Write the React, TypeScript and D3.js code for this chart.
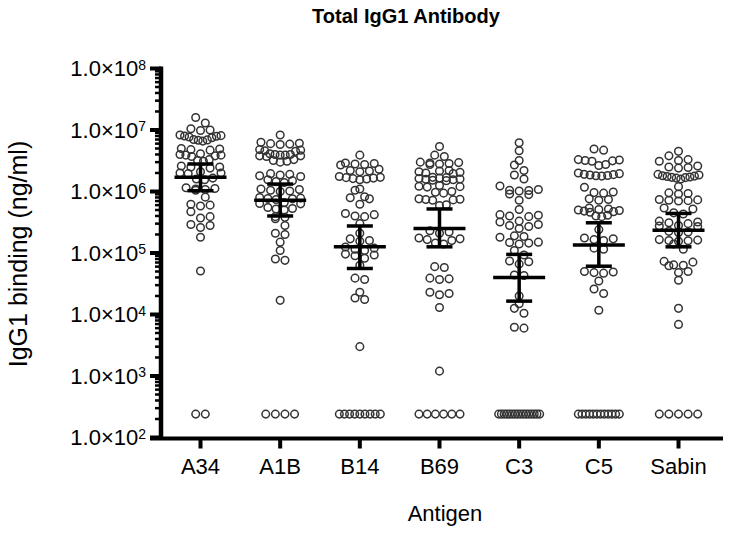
import React from 'react';
import * as d3 from 'd3';

// antigen groups
const categories = ['A34', 'A1B', 'B14', 'B69', 'C3', 'C5', 'Sabin'];

// IgG1 binding (ng/ml), one array per antigen
const a34Values = [
  1.6e7, 1.3e7,
  1.05e7, 1.0e7, 9.8e6,
  8.3e6, 8.1e6, 8.0e6, 7.9e6, 7.7e6, 7.5e6,
  7.0e6, 6.9e6, 6.8e6, 6.6e6,
  5.0e6, 4.9e6, 4.8e6, 4.7e6,
  4.1e6, 4.0e6, 3.9e6, 3.9e6, 3.8e6, 3.7e6,
  3.3e6, 3.2e6, 3.1e6,
  2.6e6, 2.5e6, 2.5e6, 2.4e6,
  2.1e6, 2.0e6, 2.0e6, 1.95e6,
  1.65e6, 1.6e6, 1.55e6,
  1.15e6, 1.12e6, 1.1e6, 1.08e6, 1.05e6,
  8.1e5,
  6.2e5, 6.0e5, 5.8e5,
  4.7e5,
  3.9e5, 3.7e5,
  2.9e5, 2.8e5, 2.6e5,
  1.8e5,
  5.1e4,
  240, 240,
];
const a1bValues = [
  8.3e6,
  6.3e6, 6.1e6, 6.0e6, 5.9e6, 5.8e6,
  4.8e6, 4.7e6, 4.6e6, 4.5e6,
  4.1e6, 4.0e6, 4.0e6, 3.9e6, 3.9e6, 3.8e6, 3.8e6, 3.7e6,
  3.3e6, 3.2e6, 3.1e6, 3.0e6,
  1.95e6, 1.9e6, 1.85e6, 1.8e6, 1.75e6,
  1.55e6, 1.5e6, 1.45e6, 1.4e6,
  1.1e6, 1.08e6, 1.05e6, 1.02e6, 1.0e6,
  8.0e5, 7.8e5, 7.7e5, 7.6e5, 7.4e5,
  6.6e5, 6.4e5, 6.3e5,
  5.5e5, 5.3e5, 5.2e5, 5.0e5,
  3.9e5, 3.8e5, 3.6e5,
  2.8e5,
  2.1e5, 2.0e5,
  1.5e5,
  1.1e5,
  8.0e4, 7.6e4,
  1.7e4,
  240, 240, 240, 240,
];
const b14Values = [
  3.9e6,
  2.9e6, 2.85e6, 2.8e6, 2.75e6, 2.7e6,
  2.3e6, 2.2e6, 2.15e6, 2.1e6,
  1.75e6, 1.7e6, 1.68e6, 1.65e6, 1.62e6, 1.6e6, 1.55e6,
  1.1e6, 1.05e6,
  8.2e5, 7.9e5, 7.6e5,
  6.2e5,
  4.4e5, 4.2e5, 4.0e5, 3.9e5,
  3.0e5,
  2.1e5,
  1.7e5, 1.6e5, 1.55e5,
  1.25e5, 1.2e5, 1.15e5, 1.1e5,
  9.6e4, 9.3e4, 9.0e4,
  8.2e4,
  6.3e4,
  3.9e4, 3.7e4,
  2.3e4,
  1.85e4, 1.75e4,
  3.0e3,
  240, 240, 240, 240, 240, 240, 240, 240, 240,
];
const b69Values = [
  5.4e6,
  3.9e6, 3.7e6,
  3.0e6, 2.95e6, 2.9e6, 2.85e6, 2.8e6, 2.75e6,
  2.2e6, 2.15e6, 2.1e6, 2.05e6, 2.0e6, 1.95e6,
  1.7e6, 1.68e6, 1.65e6, 1.62e6, 1.6e6, 1.58e6, 1.55e6, 1.52e6, 1.5e6,
  1.25e6, 1.22e6, 1.2e6, 1.18e6,
  1.0e6, 9.7e5, 9.4e5,
  7.6e5, 7.5e5, 7.4e5, 7.3e5, 7.2e5,
  6.1e5, 5.9e5,
  2.3e5, 2.2e5, 2.1e5,
  1.75e5, 1.7e5, 1.65e5, 1.6e5,
  1.45e5, 1.4e5,
  6.0e4, 5.8e4,
  3.9e4, 3.8e4, 3.7e4,
  2.3e4, 2.2e4, 2.1e4,
  1.3e4,
  1.2e3,
  240, 240, 240, 240, 240, 240,
];
const c3Values = [
  6.2e6, 4.6e6, 3.2e6, 2.7e6, 2.2e6, 1.85e6, 1.6e6, 1.23e6,
  1.08e6, 1.05e6, 1.04e6, 1.02e6,
  9.1e5, 8.9e5,
  7.2e5,
  5.1e5,
  4.2e5, 4.1e5, 4.0e5, 3.9e5,
  3.3e5, 3.2e5,
  2.9e5, 2.8e5, 2.7e5,
  2.5e5,
  1.9e5, 1.85e5, 1.8e5,
  1.5e5, 1.48e5, 1.45e5, 1.4e5,
  1.1e5,
  9.3e4,
  7.4e4, 7.2e4,
  6.6e4,
  4.4e4, 4.3e4,
  2.0e4, 1.5e4, 1.26e4, 1.05e4,
  6.2e3, 6.0e3,
  240, 240, 240, 240, 240, 240, 240, 240,
  240, 240, 240, 240, 240, 240, 240, 240,
];
const c5Values = [
  4.9e6, 4.7e6,
  3.3e6, 3.25e6, 3.2e6, 3.15e6, 3.1e6,
  2.75e6, 2.65e6,
  2.0e6, 1.95e6, 1.9e6, 1.88e6, 1.85e6, 1.82e6, 1.8e6, 1.78e6,
  1.17e6,
  9.8e5, 9.6e5, 9.4e5,
  7.6e5, 7.4e5, 7.2e5,
  5.4e5, 5.2e5, 5.1e5, 5.0e5, 4.9e5, 4.8e5, 4.7e5, 4.6e5,
  4.1e5, 4.0e5, 3.9e5,
  2.4e5,
  1.75e5, 1.7e5, 1.65e5, 1.6e5,
  1.2e5, 1.15e5,
  5.0e4, 4.9e4, 4.8e4, 4.7e4,
  3.5e4,
  2.6e4,
  2.2e4,
  1.17e4,
  240, 240, 240, 240, 240, 240, 240, 240, 240, 240, 240, 240,
];
const sabinValues = [
  4.5e6,
  3.8e6,
  3.3e6, 3.2e6, 3.1e6,
  2.6e6, 2.5e6, 2.45e6, 2.4e6,
  1.9e6, 1.85e6, 1.8e6, 1.78e6, 1.75e6, 1.72e6, 1.7e6, 1.68e6, 1.65e6, 1.6e6,
  1.2e6,
  9.5e5, 9.3e5, 9.1e5,
  7.4e5, 7.3e5, 7.2e5, 7.1e5, 7.0e5,
  5.4e5, 5.2e5,
  4.5e5, 4.3e5,
  3.3e5, 3.2e5, 3.1e5, 3.0e5,
  2.8e5, 2.75e5, 2.7e5,
  2.25e5, 2.2e5, 2.15e5,
  1.65e5, 1.62e5, 1.6e5, 1.58e5, 1.55e5,
  1.4e5,
  1.15e5,
  7.3e4, 7.1e4,
  6.4e4, 6.3e4, 6.2e4,
  5.0e4, 4.8e4,
  3.6e4,
  1.26e4,
  6.9e3,
  240, 240, 240, 240, 240,
];

// centre line and error bar per antigen
const geoMeans = [1.7e6, 7.2e5, 1.26e5, 2.5e5, 4.0e4, 1.35e5, 2.35e5];
const ciLower = [1.03e6, 4.0e5, 5.6e4, 1.26e5, 1.65e4, 6.1e4, 1.26e5];
const ciUpper = [2.8e6, 1.32e6, 2.75e5, 5.2e5, 9.5e4, 3.1e5, 4.4e5];

const seriesValues = [a34Values, a1bValues, b14Values, b69Values, c3Values, c5Values, sabinValues];

const FONT = '"Liberation Sans", Arial, Helvetica, sans-serif';
const R = 3.8;
const PITCH = 9.6; // max horizontal step between points in a row
const SPAN = 41; // widest a row may get (centre to centre)
const ROW_H = 7;

const y = d3.scaleLog().domain([1e2, 1e8]).range([437.5, 68.5]);
const x = d3.scalePoint().domain(categories).range([200.5, 678.5]);

// lay points out in rows, lowest point of a row in the middle -> chevrons
function swarm(values: number[], cx: number) {
  const pts = values.map(v => ({ v, py: y(v), px: cx })).sort((a, b) => b.py - a.py);
  const out: { v: number; py: number; px: number }[] = [];
  let i = 0;
  while (i < pts.length) {
    const start = pts[i].py;
    let j = i;
    while (j < pts.length && start - pts[j].py < ROW_H) j++;
    const row = pts.slice(i, j);
    const n = row.length;
    const step = n > 1 ? Math.min(PITCH, SPAN / (n - 1)) : 0;
    const slots = d3.range(n).map(k => (k - (n - 1) / 2) * step)
      .sort((a, b) => Math.abs(a) - Math.abs(b) || b - a);
    row.forEach((p, k) => { p.px = cx + slots[k]; out.push(p); });
    i = j;
  }
  return out;
}

export default function App() {
  const ticks = y.ticks();
  const isMajor = (t: number) => Math.abs(Math.log10(t) - Math.round(Math.log10(t))) < 1e-9;
  const axisX = 161;
  const axisY = 438.5;

  return (
    <svg width={730} height={534} style={{ position: 'absolute', left: 0, top: 0, background: '#fff' }}
      fontFamily={FONT}>
      <text x={406} y={23} textAnchor="middle" fontSize={20} fontWeight="bold">Total IgG1 Antibody</text>

      {/* y axis */}
      {ticks.map((t, i) => isMajor(t) ? (
        <g key={'t' + i}>
          <line x1={150} x2={axisX} y1={y(t)} y2={y(t)} stroke="#000" strokeWidth={4} />
          <text x={146} y={y(t) + 7.5} textAnchor="end" fontSize={22}>
            1.0×10<tspan dy={-6.5} fontSize={14}>{Math.round(Math.log10(t))}</tspan>
          </text>
        </g>
      ) : (
        <line key={'t' + i} x1={155} x2={axisX} y1={y(t)} y2={y(t)} stroke="#000" strokeWidth={2.5} />
      ))}
      <line x1={axisX} x2={axisX} y1={66.5} y2={axisY} stroke="#000" strokeWidth={4.5} />
      <text transform="translate(26.5,254) rotate(-90)" textAnchor="middle" fontSize={25}>IgG1 binding (ng/ml)</text>

      {/* x axis */}
      <line x1={150} x2={723} y1={axisY} y2={axisY} stroke="#000" strokeWidth={4} />
      {categories.map(c => (
        <g key={c}>
          <line x1={x(c)} x2={x(c)} y1={axisY} y2={448.5} stroke="#000" strokeWidth={4} />
          <text x={x(c)} y={474} textAnchor="middle" fontSize={22}>{c}</text>
        </g>
      ))}
      <text x={445} y={521} textAnchor="middle" fontSize={22}>Antigen</text>

      {/* points */}
      {categories.map((c, gi) => (
        <g key={'p' + c} fill="none" stroke="#333" strokeWidth={1.5}>
          {swarm(seriesValues[gi], x(c) as number).map((p, k) => (
            <circle key={k} cx={p.px} cy={p.py} r={R} />
          ))}
        </g>
      ))}

      {/* geometric mean with error bars */}
      {categories.map((c, gi) => {
        const cx = x(c) as number;
        return (
          <g key={'e' + c} stroke="#000" strokeWidth={3.5}>
            <line x1={cx} x2={cx} y1={y(ciLower[gi])} y2={y(ciUpper[gi])} />
            <line x1={cx - 13} x2={cx + 13} y1={y(ciLower[gi])} y2={y(ciLower[gi])} />
            <line x1={cx - 13} x2={cx + 13} y1={y(ciUpper[gi])} y2={y(ciUpper[gi])} />
            <line x1={cx - 26} x2={cx + 26} y1={y(geoMeans[gi])} y2={y(geoMeans[gi])} />
          </g>
        );
      })}
    </svg>
  );
}
